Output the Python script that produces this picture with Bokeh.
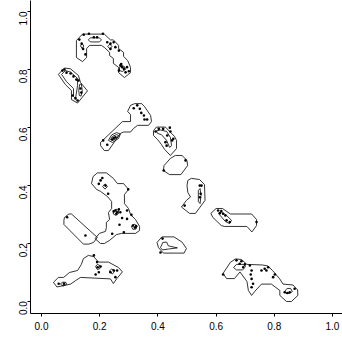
import math
from bokeh.plotting import figure
from bokeh.models import Range1d, FixedTicker
from bokeh.embed import file_html
from bokeh.resources import INLINE

# ---------------- data ----------------
tick_values = [0.0, 0.2, 0.4, 0.6, 0.8, 1.0]
tick_labels = ["0.0", "0.2", "0.4", "0.6", "0.8", "1.0"]

# arch (top)
arch_x = [0.120,0.120,0.141,0.216,0.237,0.247,0.265,0.265,0.282,0.282,0.296,0.306,0.306,0.285,0.265,0.265,0.247,0.247,0.234,0.234,0.216,0.206,0.165,0.155,0.155,0.141]
arch_y = [0.841,0.900,0.922,0.922,0.902,0.902,0.883,0.872,0.859,0.845,0.831,0.807,0.789,0.772,0.789,0.807,0.821,0.838,0.848,0.859,0.876,0.883,0.883,0.872,0.841,0.827]
arch_in1_x = [0.161,0.168,0.199,0.206,0.199,0.168]
arch_in1_y = [0.902,0.909,0.909,0.902,0.895,0.895]
arch_in2_x = [0.134,0.140,0.145,0.140]
arch_in2_y = [0.881,0.890,0.881,0.872]
arch_in3_x = [0.228,0.235,0.242,0.235]
arch_in3_y = [0.879,0.888,0.879,0.871]
arch_in4_x = [0.268,0.275,0.285,0.289,0.278,0.268]
arch_in4_y = [0.807,0.814,0.810,0.800,0.793,0.796]
arch_pts_x = [0.130,0.145,0.163,0.180,0.191,0.211,0.151,0.138,0.143,0.226,0.237,0.248,0.254,0.266,0.271,0.277,0.283,0.289,0.300,0.266,0.274,0.237,0.294]
arch_pts_y = [0.903,0.920,0.923,0.911,0.911,0.923,0.852,0.889,0.871,0.894,0.889,0.894,0.877,0.865,0.814,0.808,0.802,0.790,0.794,0.796,0.819,0.871,0.808]

# hook (left, 0.7-0.8)
hook_x = [0.058,0.079,0.100,0.127,0.134,0.158,0.124,0.103,0.103,0.082]
hook_y = [0.783,0.805,0.802,0.779,0.755,0.726,0.684,0.696,0.727,0.748]
hook_in1_x = [0.069,0.082,0.100,0.124,0.124,0.117,0.110,0.110,0.086]
hook_in1_y = [0.783,0.796,0.791,0.769,0.745,0.700,0.707,0.734,0.758]
hook_in2_x = [0.131,0.137,0.140,0.136,0.130,0.128]
hook_in2_y = [0.748,0.750,0.727,0.708,0.710,0.727]
hook_pts_x = [0.072,0.079,0.086,0.100,0.110,0.120,0.127,0.134,0.137,0.117,0.124,0.107]
hook_pts_y = [0.796,0.800,0.789,0.786,0.776,0.765,0.762,0.734,0.720,0.700,0.693,0.710]

# diagonal (middle)
diag_x = [0.203,0.278,0.306,0.306,0.296,0.306,0.320,0.344,0.354,0.375,0.378,0.368,0.330,0.316,0.306,0.282,0.271,0.230,0.216,0.203]
diag_y = [0.548,0.620,0.620,0.644,0.655,0.676,0.682,0.682,0.672,0.641,0.620,0.607,0.607,0.596,0.584,0.584,0.579,0.520,0.520,0.537]
diag_in1_x = [0.237,0.244,0.258,0.265,0.258,0.244]
diag_in1_y = [0.558,0.569,0.575,0.572,0.562,0.555]
diag_in2_x = [0.230,0.241,0.258,0.271,0.265,0.244]
diag_in2_y = [0.555,0.574,0.582,0.577,0.562,0.548]
diag_pts_x = [0.317,0.329,0.338,0.343,0.352,0.363,0.354,0.212,0.226,0.248,0.254,0.243]
diag_pts_y = [0.666,0.676,0.664,0.650,0.641,0.627,0.627,0.555,0.540,0.563,0.566,0.558]

# blob near (0.42, 0.55)
b4_x = [0.385,0.395,0.426,0.440,0.457,0.464,0.464,0.443,0.423,0.412,0.399,0.385]
b4_y = [0.589,0.601,0.601,0.586,0.569,0.555,0.527,0.503,0.524,0.541,0.558,0.572]
b4_in_x = [0.395,0.409,0.430,0.443,0.447,0.440,0.430,0.412,0.399]
b4_in_y = [0.588,0.591,0.586,0.565,0.537,0.531,0.555,0.575,0.579]
b4_pts_x = [0.392,0.403,0.418,0.441,0.432,0.449,0.453,0.430,0.426,0.443]
b4_pts_y = [0.586,0.595,0.595,0.599,0.572,0.555,0.561,0.537,0.549,0.586]

# blob near (0.46, 0.47)
b5_x = [0.419,0.421,0.443,0.460,0.483,0.500,0.502,0.479,0.440]
b5_y = [0.451,0.468,0.493,0.503,0.503,0.486,0.468,0.437,0.437]
b5_pts_x = [0.495,0.420]
b5_pts_y = [0.486,0.451]

# blob near (0.52, 0.36)
b6_x = [0.500,0.503,0.515,0.543,0.560,0.562,0.529,0.509,0.481,0.498,0.512,0.503]
b6_y = [0.399,0.417,0.424,0.420,0.403,0.348,0.303,0.303,0.325,0.348,0.360,0.375]
b6_in_x = [0.539,0.545,0.548,0.545,0.539]
b6_in_y = [0.382,0.389,0.365,0.337,0.344]
b6_pts_x = [0.544,0.550,0.547,0.544,0.492]
b6_pts_y = [0.399,0.399,0.371,0.359,0.330]

# blob near (0.45, 0.19)
b7_x = [0.397,0.414,0.455,0.483,0.498,0.490,0.419,0.402]
b7_y = [0.203,0.222,0.222,0.204,0.182,0.166,0.166,0.185]
b7_in_x = [0.409,0.417,0.430,0.436,0.467,0.436,0.416]
b7_in_y = [0.185,0.203,0.204,0.191,0.184,0.180,0.177]
b7_pts_x = [0.409,0.416]
b7_pts_y = [0.168,0.216]

# blob near (0.66, 0.28)
b8_x = [0.582,0.600,0.622,0.649,0.722,0.739,0.739,0.723,0.706,0.629,0.618,0.589]
b8_y = [0.303,0.320,0.320,0.301,0.301,0.282,0.261,0.239,0.258,0.258,0.261,0.289]
b8_in_x = [0.608,0.618,0.636,0.653,0.646,0.632]
b8_in_y = [0.303,0.308,0.296,0.279,0.268,0.275]
b8_pts_x = [0.607,0.618,0.613,0.624,0.632,0.636,0.647,0.739]
b8_pts_y = [0.313,0.311,0.304,0.302,0.296,0.279,0.273,0.273]

# large cluster (0.2-0.34, 0.2-0.44)
big_x = [0.172,0.177,0.192,0.223,0.247,0.261,0.282,0.299,0.285,0.285,0.299,0.306,0.323,0.337,0.337,0.323,0.275,0.258,0.234,0.216,0.203,0.184,0.199,0.220,0.223,0.223,0.234,0.230,0.241,0.241,0.227,0.203,0.189]
big_y = [0.406,0.430,0.443,0.443,0.424,0.406,0.406,0.386,0.368,0.337,0.320,0.299,0.282,0.258,0.244,0.234,0.234,0.230,0.210,0.199,0.199,0.216,0.234,0.241,0.254,0.272,0.282,0.306,0.320,0.344,0.361,0.379,0.386]
big_in1_x = [0.210,0.218,0.227,0.218]
big_in1_y = [0.396,0.405,0.396,0.387]
big_in2_x = [0.247,0.256,0.265,0.265,0.256,0.247]
big_in2_y = [0.310,0.318,0.313,0.303,0.296,0.301]
big_in3_x = [0.309,0.318,0.328,0.325,0.314]
big_in3_y = [0.258,0.266,0.260,0.249,0.248]
big_pts_x = [0.203,0.209,0.197,0.220,0.229,0.298,0.248,0.254,0.260,0.257,0.266,0.271,0.294,0.309,0.277,0.294,0.268,0.314,0.321,0.325,0.243,0.283]
big_pts_y = [0.417,0.425,0.405,0.399,0.371,0.386,0.310,0.313,0.307,0.302,0.317,0.307,0.313,0.298,0.287,0.284,0.264,0.261,0.254,0.259,0.233,0.238]

# diagonal band (0.08-0.19, 0.2-0.3)
band_x = [0.077,0.079,0.094,0.103,0.192,0.179,0.163,0.144,0.077]
band_y = [0.279,0.289,0.301,0.301,0.220,0.203,0.197,0.197,0.265]
band_pts_x = [0.088,0.151]
band_pts_y = [0.290,0.227]

# lower left cluster (0.04-0.28, 0.05-0.16)
low_x = [0.041,0.058,0.076,0.096,0.124,0.137,0.144,0.161,0.179,0.196,0.230,0.265,0.278,0.259,0.247,0.237,0.134,0.117,0.100,0.053]
low_y = [0.065,0.082,0.082,0.099,0.106,0.127,0.147,0.158,0.154,0.135,0.135,0.116,0.101,0.078,0.061,0.077,0.082,0.071,0.059,0.049]
low_in1_x = [0.065,0.072,0.084,0.086,0.074]
low_in1_y = [0.059,0.066,0.065,0.058,0.052]
low_in2_x = [0.186,0.192,0.201,0.201,0.192]
low_in2_y = [0.120,0.127,0.123,0.113,0.109]
low_in3_x = [0.232,0.241,0.253,0.244]
low_in3_y = [0.103,0.111,0.106,0.094]
low_pts_x = [0.059,0.077,0.180,0.191,0.193,0.203,0.186,0.197,0.248,0.260,0.254,0.237]
low_pts_y = [0.060,0.060,0.158,0.135,0.117,0.120,0.092,0.100,0.106,0.106,0.083,0.100]

# lower right cluster (0.62-0.88, 0.0-0.15)
lr_x = [0.624,0.649,0.667,0.687,0.706,0.759,0.777,0.794,0.818,0.830,0.864,0.880,0.881,0.859,0.842,0.819,0.819,0.790,0.756,0.734,0.722,0.711,0.706,0.682,0.663,0.636]
lr_y = [0.096,0.134,0.146,0.144,0.127,0.125,0.122,0.106,0.078,0.059,0.056,0.039,0.020,-0.001,-0.001,0.020,0.037,0.059,0.059,0.035,0.020,0.037,0.068,0.101,0.078,0.078]
lr_in1_x = [0.660,0.670,0.694,0.701,0.691,0.670]
lr_in1_y = [0.116,0.127,0.127,0.118,0.108,0.108]
lr_in2_x = [0.835,0.844,0.856,0.862,0.852,0.840]
lr_in2_y = [0.033,0.044,0.044,0.033,0.027,0.027]
lr_pts_x = [0.670,0.687,0.681,0.699,0.693,0.716,0.722,0.719,0.722,0.727,0.722,0.756,0.767,0.773,0.779,0.796,0.802,0.836,0.845,0.853,0.870,0.624]
lr_pts_y = [0.141,0.138,0.129,0.127,0.117,0.123,0.106,0.092,0.077,0.060,0.048,0.106,0.112,0.106,0.117,0.083,0.092,0.031,0.028,0.031,0.043,0.092]

# ---------------- assemble ----------------
outlines = [
    (arch_x, arch_y), (arch_in1_x, arch_in1_y), (arch_in2_x, arch_in2_y),
    (arch_in3_x, arch_in3_y), (arch_in4_x, arch_in4_y),
    (hook_x, hook_y), (hook_in1_x, hook_in1_y), (hook_in2_x, hook_in2_y),
    (diag_x, diag_y), (diag_in1_x, diag_in1_y), (diag_in2_x, diag_in2_y),
    (b4_x, b4_y), (b4_in_x, b4_in_y),
    (b5_x, b5_y),
    (b6_x, b6_y), (b6_in_x, b6_in_y),
    (b7_x, b7_y), (b7_in_x, b7_in_y),
    (b8_x, b8_y), (b8_in_x, b8_in_y),
    (big_x, big_y), (big_in1_x, big_in1_y), (big_in2_x, big_in2_y), (big_in3_x, big_in3_y),
    (band_x, band_y),
    (low_x, low_y), (low_in1_x, low_in1_y), (low_in2_x, low_in2_y), (low_in3_x, low_in3_y),
    (lr_x, lr_y), (lr_in1_x, lr_in1_y), (lr_in2_x, lr_in2_y),
]
point_sets = [
    (arch_pts_x, arch_pts_y), (hook_pts_x, hook_pts_y), (diag_pts_x, diag_pts_y),
    (b4_pts_x, b4_pts_y), (b5_pts_x, b5_pts_y), (b6_pts_x, b6_pts_y),
    (b7_pts_x, b7_pts_y), (b8_pts_x, b8_pts_y), (big_pts_x, big_pts_y),
    (band_pts_x, band_pts_y), (low_pts_x, low_pts_y), (lr_pts_x, lr_pts_y),
]

p = figure(width=342, height=339,
           x_range=Range1d(-0.0378, 1.0344), y_range=Range1d(-0.0425, 1.038),
           output_backend="svg", toolbar_location=None,
           min_border_left=30, min_border_right=0, min_border_top=0, min_border_bottom=26)
p.outline_line_color = None
p.grid.visible = False
p.background_fill_color = "white"
p.border_fill_color = "white"

p.patches(xs=[o[0] for o in outlines], ys=[o[1] for o in outlines],
          fill_color=None, line_color="black", line_width=0.8)

all_px = [v for s in point_sets for v in s[0]]
all_py = [v for s in point_sets for v in s[1]]
p.scatter(all_px, all_py, size=2.6, fill_color="black", line_color="black", line_width=0)

overrides = {v: t for v, t in zip(tick_values, tick_labels)}
for ax in (p.xaxis[0], p.yaxis[0]):
    ax.ticker = FixedTicker(ticks=tick_values)
    ax.major_label_overrides = overrides
    ax.axis_line_color = "black"
    ax.axis_line_width = 1
    ax.major_tick_line_color = "black"
    ax.major_tick_out = 3
    ax.major_tick_in = 0
    ax.minor_tick_line_color = None
    ax.major_label_text_font = "Liberation Sans"
    ax.major_label_text_font_size = "10px"
    ax.major_label_text_color = "black"

p.xaxis.major_label_standoff = 5
p.yaxis.major_label_standoff = 4
p.yaxis.major_label_orientation = math.pi / 2

open("out.html", "w").write(file_html(p, INLINE))
